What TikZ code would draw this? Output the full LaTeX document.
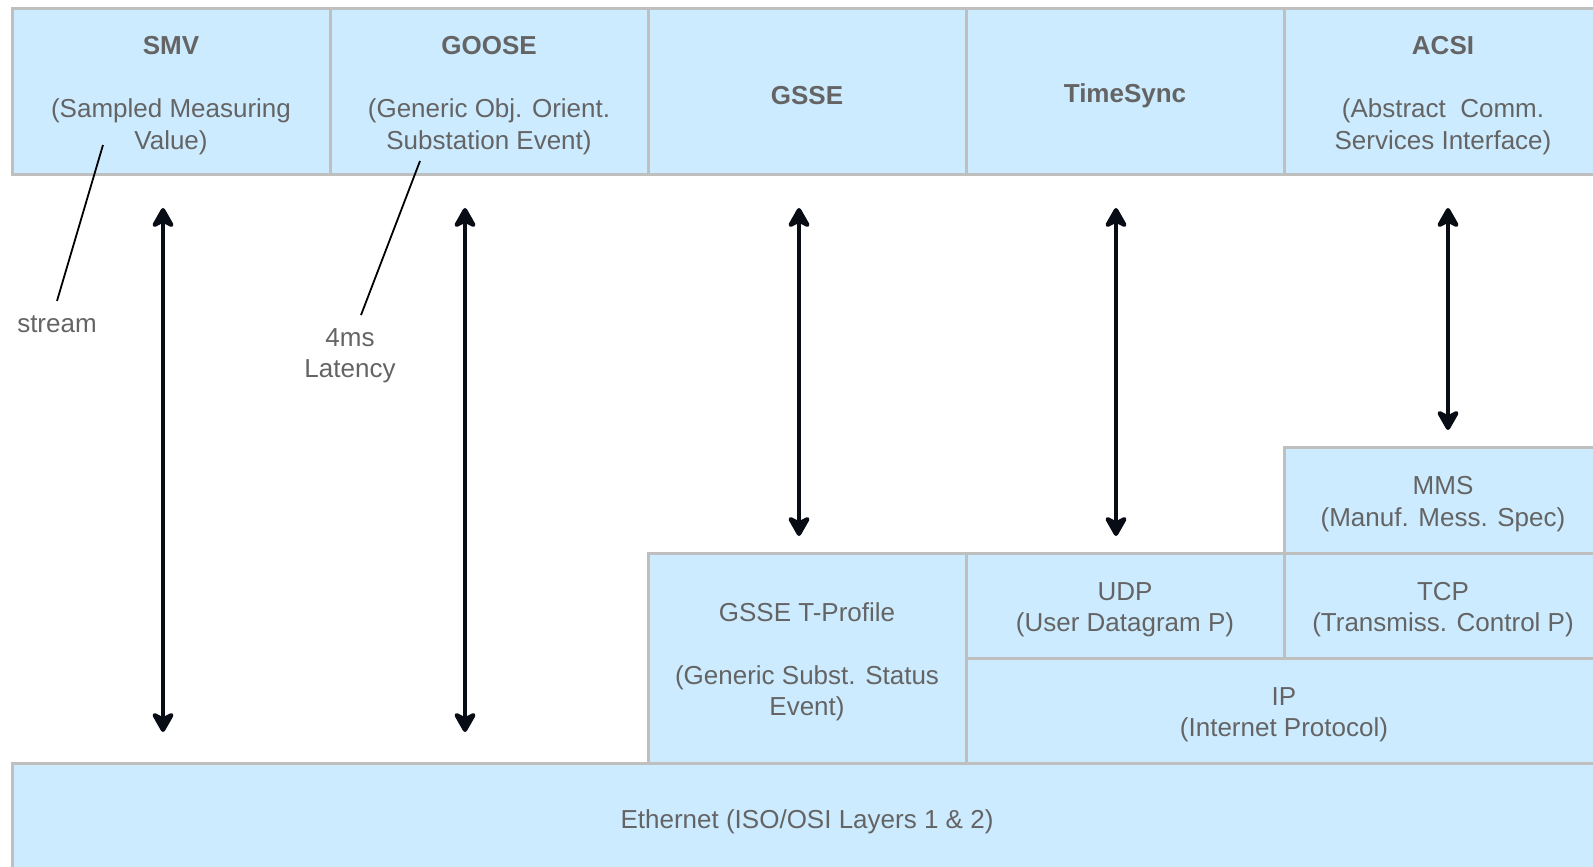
\documentclass[tikz,border=0pt]{standalone}
\usepackage{fontspec}
\setmainfont{Liberation Sans}
\usetikzlibrary{arrows.meta,calc,chains,positioning}
\definecolor{boxfill}{RGB}{205,235,255}
\definecolor{boxline}{RGB}{191,191,191}
\definecolor{txtgrey}{RGB}{100,100,100}
\definecolor{arrowink}{RGB}{8,12,20}
\newcommand\capstrut{\rule{0pt}{26.5pt}}

\begin{document}
\begin{tikzpicture}[x=1pt, y=-1pt,
    layer/.style={draw=boxline, fill=boxfill, line width=3pt, text=txtgrey, align=center,
        inner sep=0pt, outer sep=0pt, minimum width=318pt, minimum height=105pt,
        font=\fontsize{26}{31.5}\selectfont},
    svc/.style={layer, minimum height=165pt},
    link/.style={line width=4.5pt, draw=arrowink,
        {Stealth[length=24pt,width=27pt,inset=7pt,round]}-{Stealth[length=24pt,width=27pt,inset=7pt,round]}},
    note/.style={text=txtgrey, align=center, font=\fontsize{26}{31.5}\selectfont},
    callout/.style={line width=1.8pt, draw=black},
    start chain=going right, node distance=0pt]

    \useasboundingbox (0,0) rectangle (1593,867);
    \clip (0,0) rectangle (1593,867);

    % services on top
    \node[svc,on chain] (smv) at (171,91.5) {\capstrut\textbf{SMV}\\[31.5pt](Sampled Measuring\\Value)};
    \foreach \n/\t in {goose/{\capstrut\textbf{GOOSE}\\[31.5pt](Generic Obj. Orient.\\Substation Event)},
                       gsse/{\capstrut\textbf{GSSE}},
                       tsync/{\capstrut\textbf{TimeSync}},
                       acsi/{\capstrut\textbf{ACSI}\\[31.5pt](Abstract\ \ Comm.\\Services Interface)}}{
        \node[svc,on chain] (\n) {\t};
    }

    % transport stack
    \node[layer,anchor=north west,minimum height=106pt] (mms) at (acsi.west |- 0,447) {\capstrut MMS\\(Manuf. Mess. Spec)};
    \node[layer,below=of mms] (tcp) {\capstrut TCP\\(Transmiss. Control P)};
    \node[layer,left=of tcp] (udp) {\capstrut UDP\\(User Datagram P)};
    \node[layer,anchor=north east,minimum height=210pt] (tprof) at (udp.north west)
        {\capstrut GSSE T-Profile\\[31.5pt](Generic Subst. Status\\Event)};
    \node[layer,anchor=north west,minimum width=636pt] (ip) at (udp.south west) {\capstrut IP\\(Internet Protocol)};
    \node[layer,anchor=north west,minimum width=1590pt,minimum height=110pt] (eth) at (smv.west |- tprof.south)
        {\capstrut Ethernet (ISO/OSI Layers 1 \& 2)};

    \foreach \s/\d/\dx/\dy in {smv/eth/-8/31, goose/eth/-24/31, gsse/tprof/-8/17, tsync/udp/-9/17, acsi/mms/5/17}{
        \draw[link] ($(\s.south)+(\dx,34)$) -- ($(\s.south |- \d.north)+(\dx,-\dy)$);
    }

    % remarks
    \node[note] (stream) at (57,324) {stream};
    \node[note] (lat) at (350,356) {4ms\\Latency};
    \coordinate (smvmark) at (103,145);
    \coordinate (goosemark) at (420,161);
    \draw[callout] (smvmark) -- ([yshift=11pt]stream.north);
    \draw[callout] (goosemark) -- ([xshift=11pt,yshift=10pt]lat.north);

\end{tikzpicture}
\end{document}
